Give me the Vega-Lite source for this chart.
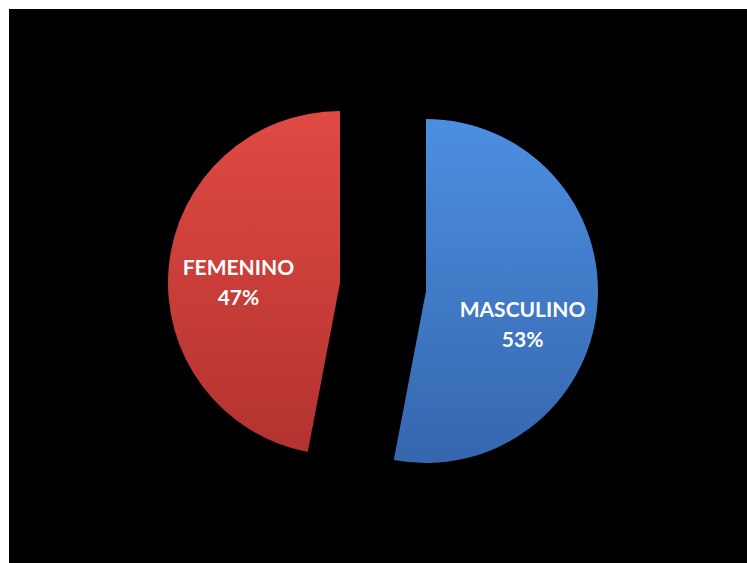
{
  "$schema": "https://vega.github.io/schema/vega-lite/v6.json",
  "width": 738,
  "height": 554,
  "padding": {"left": 9, "top": 9, "right": 0, "bottom": 0},
  "autosize": {"type": "none"},
  "background": "white",
  "view": {"fill": "black", "stroke": null},
  "data": {"values": [{"sexo": "MASCULINO", "pct": 53}, {"sexo": "FEMENINO", "pct": 47}]},
  "transform": [
    {"stack": "pct", "groupby": [], "sort": [{"field": "sexo", "order": "descending"}], "as": ["p0", "p1"]},
    {"calculate": "(datum.p0 + datum.p1) / 2", "as": "pm"},
    {"calculate": "datum.sexo + '\\n' + datum.pct + '%'", "as": "label"}
  ],
  "layer": [
    {
      "transform": [{"filter": "datum.sexo == 'MASCULINO'"}],
      "mark": {"type": "arc", "radius": 172, "xOffset": 48, "yOffset": 5,
        "fill": {"gradient": "linear", "x1": 0, "y1": 0, "x2": 0, "y2": 1,
          "stops": [{"offset": 0, "color": "#4C8FE0"}, {"offset": 1, "color": "#3566AE"}]}},
      "encoding": {
        "theta": {"field": "p0", "type": "quantitative", "scale": {"domain": [0, 100]}},
        "theta2": {"field": "p1"}
      }
    },
    {
      "transform": [{"filter": "datum.sexo == 'FEMENINO'"}],
      "mark": {"type": "arc", "radius": 172, "xOffset": -38, "yOffset": -3,
        "fill": {"gradient": "linear", "x1": 0, "y1": 0, "x2": 0, "y2": 1,
          "stops": [{"offset": 0, "color": "#E04A44"}, {"offset": 1, "color": "#B3322F"}]}},
      "encoding": {
        "theta": {"field": "p0", "type": "quantitative", "scale": {"domain": [0, 100]}},
        "theta2": {"field": "p1"}
      }
    },
    {
      "transform": [{"filter": "datum.sexo == 'MASCULINO'"}],
      "mark": {"type": "text", "radius": 102, "xOffset": 48, "yOffset": 5, "dx": -5, "dy": 10,
        "font": "Lato", "fontWeight": "bold", "fontSize": 21, "lineBreak": "\n", "lineHeight": 30,
        "color": "white", "align": "center", "baseline": "middle"},
      "encoding": {
        "theta": {"field": "pm", "type": "quantitative"},
        "text": {"field": "label"}
      }
    },
    {
      "transform": [{"filter": "datum.sexo == 'FEMENINO'"}],
      "mark": {"type": "text", "radius": 102, "xOffset": -38, "yOffset": -3, "dx": 0, "dy": -4,
        "font": "Lato", "fontWeight": "bold", "fontSize": 21, "lineBreak": "\n", "lineHeight": 30,
        "color": "white", "align": "center", "baseline": "middle"},
      "encoding": {
        "theta": {"field": "pm", "type": "quantitative"},
        "text": {"field": "label"}
      }
    }
  ]
}
